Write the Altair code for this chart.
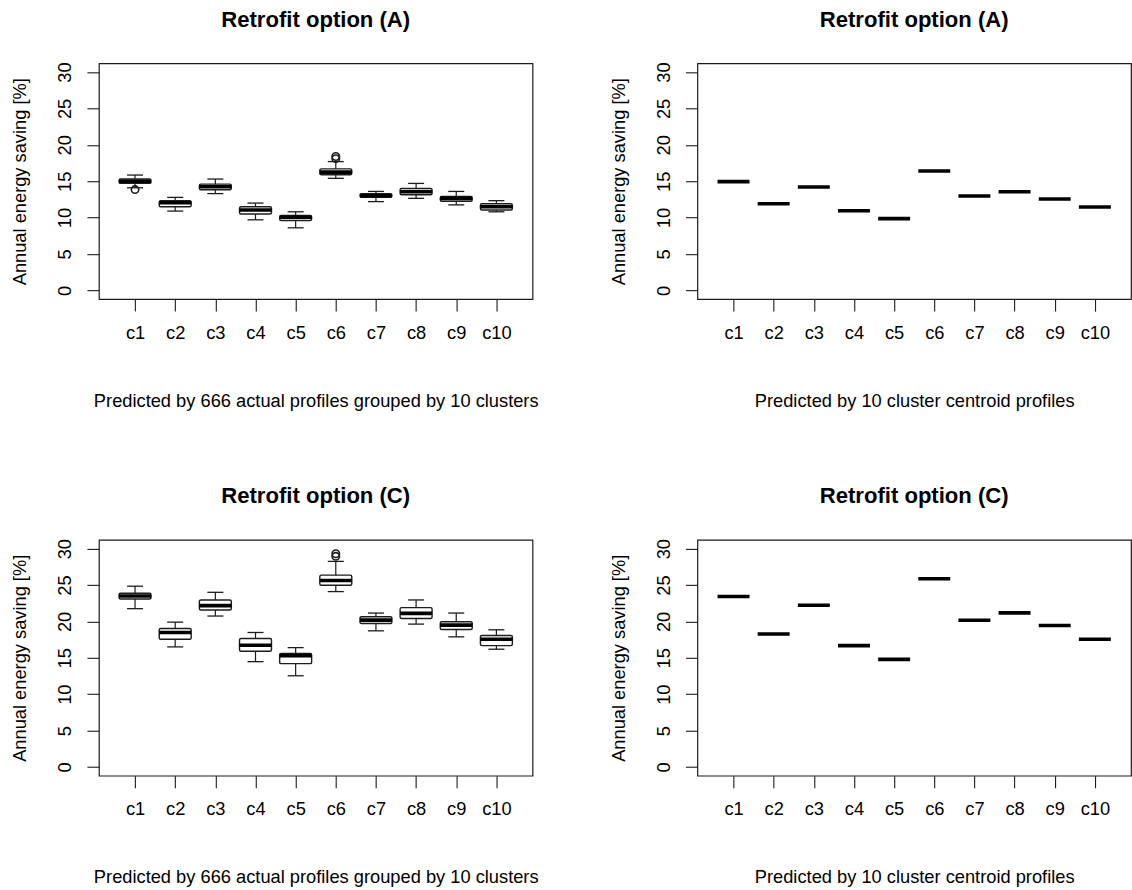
import altair as alt
import pandas as pd

clusters = ["c1", "c2", "c3", "c4", "c5", "c6", "c7", "c8", "c9", "c10"]

# Retrofit option (A), 666 actual profiles: five-number summaries per cluster
a_low = [14.10, 10.90, 13.30, 9.70, 8.60, 15.40, 12.20, 12.65, 11.75, 10.80]
a_q1 = [14.70, 11.50, 13.83, 10.50, 9.60, 15.90, 12.80, 13.15, 12.25, 11.05]
a_med = [15.00, 12.05, 14.25, 11.05, 10.05, 16.25, 13.00, 13.55, 12.65, 11.50]
a_q3 = [15.30, 12.33, 14.60, 11.50, 10.30, 16.70, 13.30, 14.00, 12.90, 11.90]
a_high = [15.85, 12.78, 15.30, 12.00, 10.80, 17.70, 13.60, 14.70, 13.60, 12.33]
a_out_cluster = ["c1", "c6", "c6"]
a_out_value = [13.85, 18.10, 18.40]
# Retrofit option (A), cluster centroid profiles
a_centroid = [14.95, 11.90, 14.20, 10.95, 9.86, 16.40, 12.97, 13.56, 12.55, 11.46]

# Retrofit option (C), 666 actual profiles
c_low = [21.75, 16.50, 20.74, 14.47, 12.53, 24.10, 18.71, 19.63, 17.88, 16.18]
c_q1 = [23.09, 17.56, 21.57, 15.90, 14.20, 24.98, 19.72, 20.41, 18.89, 16.68]
c_med = [23.50, 18.48, 22.17, 16.73, 15.30, 25.62, 20.18, 21.10, 19.49, 17.56]
c_q3 = [23.87, 19.03, 22.95, 17.65, 15.60, 26.36, 20.65, 21.89, 19.95, 18.06]
c_high = [24.84, 19.90, 24.00, 18.48, 16.40, 28.25, 21.15, 22.95, 21.15, 18.85]
c_out_cluster = ["c6", "c6"]
c_out_value = [28.94, 29.30]
# Retrofit option (C), cluster centroid profiles
c_centroid = [23.43, 18.28, 22.23, 16.67, 14.79, 25.86, 20.17, 21.18, 19.43, 17.55]

y_ticks = [0, 5, 10, 15, 20, 25, 30]

FONT = "Liberation Sans"
INK = "#1c1c1c"
TXT = 18.3
W, H = 434, 236
BOX_W = 32


def x_enc(subtitle):
    return alt.X(
        "cluster:N",
        scale=alt.Scale(type="point", domain=clusters, padding=0.9),
        axis=alt.Axis(
            title=subtitle, labelAngle=0, domain=False, grid=False,
            tickSize=12, tickColor=INK, tickWidth=1.1,
            labelPadding=22, labelBaseline="middle", labelOverlap=False,
            labelFont=FONT, labelFontSize=TXT, labelColor="black",
            titleFont=FONT, titleFontSize=TXT, titleFontWeight="normal",
            titleColor="black", titleY=102, titleBaseline="middle",
        ),
    )


def y_enc(field):
    return alt.Y(
        field,
        scale=alt.Scale(domain=[-1.2, 31.2], nice=False, zero=False),
        axis=alt.Axis(
            title="Annual energy saving [%]", values=y_ticks, domain=False,
            grid=False, tickSize=12, tickColor=INK, tickWidth=1.1,
            labelAngle=-90, labelAlign="center", labelBaseline="middle",
            labelOverlap=False,
            labelPadding=21, labelFont=FONT, labelFontSize=TXT,
            labelColor="black", titleFont=FONT, titleFontSize=TXT,
            titleFontWeight="normal", titleColor="black",
            titleX=-78, titleBaseline="middle",
        ),
    )


def panel_title(text):
    return alt.TitleParams(
        text, font=FONT, fontSize=22.1, fontWeight="bold", color="black",
        anchor="middle", frame="group", baseline="middle", offset=20,
    )


def box_panel(title, subtitle, low, q1, med, q3, high, out_c, out_v):
    df = pd.DataFrame({"cluster": clusters, "low": low, "q1": q1,
                       "med": med, "q3": q3, "high": high})
    out_df = pd.DataFrame({"cluster": out_c, "value": out_v})
    base = alt.Chart(df).encode(x=x_enc(subtitle))
    whisker = base.mark_rule(color=INK, strokeWidth=1.2).encode(
        y=y_enc("low:Q"), y2="high:Q")
    cap_lo = base.mark_tick(color=INK, opacity=1, size=BOX_W / 2,
                            thickness=1.3).encode(y=y_enc("low:Q"))
    cap_hi = base.mark_tick(color=INK, opacity=1, size=BOX_W / 2,
                            thickness=1.3).encode(y=y_enc("high:Q"))
    box = base.mark_bar(size=BOX_W, fill="white", opacity=1, stroke=INK,
                        strokeWidth=1.4, cornerRadius=1.5).encode(
        y=y_enc("q1:Q"), y2="q3:Q")
    median = base.mark_tick(color="black", opacity=1, size=BOX_W,
                            thickness=3.6).encode(y=y_enc("med:Q"))
    outliers = alt.Chart(out_df).mark_point(
        shape="circle", size=55, filled=False, opacity=1, stroke=INK, strokeWidth=1.6
    ).encode(x=x_enc(subtitle), y=y_enc("value:Q"))
    return alt.layer(whisker, cap_lo, cap_hi, box, median, outliers).properties(
        width=W, height=H, title=panel_title(title))


def centroid_panel(title, subtitle, values):
    df = pd.DataFrame({"cluster": clusters, "value": values})
    return alt.Chart(df).mark_tick(
        color="black", opacity=1, size=BOX_W, thickness=3.6
    ).encode(
        x=x_enc(subtitle), y=y_enc("value:Q")
    ).properties(width=W, height=H, title=panel_title(title))


sub_actual = "Predicted by 666 actual profiles grouped by 10 clusters"
sub_centroid = "Predicted by 10 cluster centroid profiles"

chart = alt.concat(
    box_panel("Retrofit option (A)", sub_actual, a_low, a_q1, a_med, a_q3, a_high,
              a_out_cluster, a_out_value),
    centroid_panel("Retrofit option (A)", sub_centroid, a_centroid),
    box_panel("Retrofit option (C)", sub_actual, c_low, c_q1, c_med, c_q3, c_high,
              c_out_cluster, c_out_value),
    centroid_panel("Retrofit option (C)", sub_centroid, c_centroid),
    columns=2,
    spacing={"row": 241, "column": 165},
    bounds="flush",
).properties(
    padding={"left": 10, "top": 7, "right": 0, "bottom": 2},
    autosize=alt.AutoSizeParams(type="pad"),
    background="white",
).configure_view(
    stroke=INK, strokeWidth=1.2
)

chart.save("out.html", embed_options={"renderer": "svg", "actions": False})
